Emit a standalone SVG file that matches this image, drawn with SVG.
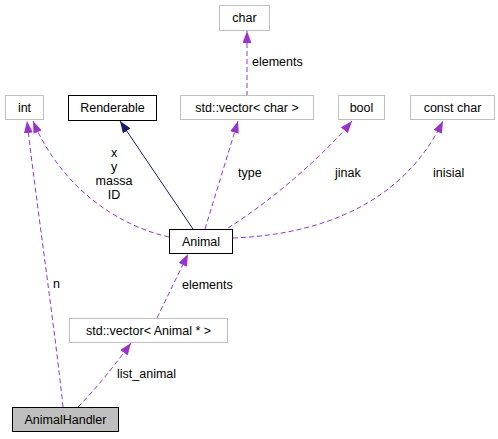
<svg xmlns="http://www.w3.org/2000/svg" width="498" height="439" viewBox="0 0 498 439">
<style>
text{font-family:"Liberation Sans",Arial,sans-serif;font-size:12.5px;fill:#000}
.n text{text-anchor:middle}
.gray{fill:#fff;stroke:#bfbfbf;stroke-width:1}
.blk{fill:#fff;stroke:#000;stroke-width:1}
.dep{fill:none;stroke:#9a32cd;stroke-width:1;stroke-dasharray:5,3}
.inh{fill:none;stroke:#191970;stroke-width:1}
</style>
<defs>
<marker id="ap" markerUnits="userSpaceOnUse" viewBox="0 0 12 9" refX="12" refY="4.5" markerWidth="12" markerHeight="9" orient="auto">
<path d="M0,0 L12,4.5 L0,9 z" fill="#9a32cd"/>
</marker>
<marker id="an" markerUnits="userSpaceOnUse" viewBox="0 0 12 9" refX="12" refY="4.5" markerWidth="12" markerHeight="9" orient="auto">
<path d="M0,0 L12,4.5 L0,9 z" fill="#191970"/>
</marker>
</defs>
<g id="edges">
<path class="dep" d="M78,407 C95,390 115,365 131,343" marker-end="url(#ap)"/>
<path class="dep" d="M63,407 C55,330 36,200 27,121" marker-end="url(#ap)"/>
<path class="dep" d="M169,237 C115,225 60,185 33,121" marker-end="url(#ap)"/>
<path class="inh" d="M193,229 L120,121" marker-end="url(#an)"/>
<path class="dep" d="M205,229 L238,121" marker-end="url(#ap)"/>
<path class="dep" d="M228,228 C265,205 320,160 352,121" marker-end="url(#ap)"/>
<path class="dep" d="M233,238 C310,235 400,210 443,121" marker-end="url(#ap)"/>
<path class="dep" d="M247,96 L247,31" marker-end="url(#ap)"/>
<path class="dep" d="M157,318 L188,254" marker-end="url(#ap)"/>
<text x="252" y="66">elements</text>
<text x="114" y="157" text-anchor="middle">x</text>
<text x="114" y="171" text-anchor="middle">y</text>
<text x="114" y="185" text-anchor="middle">massa</text>
<text x="114" y="199" text-anchor="middle">ID</text>
<text x="238" y="177">type</text>
<text x="335" y="177">jinak</text>
<text x="433" y="177">inisial</text>
<text x="53" y="288">n</text>
<text x="182" y="289">elements</text>
<text x="117" y="378">list_animal</text>
</g>
<g id="char" class="n"><rect class="gray" x="219.5" y="5.5" width="50" height="25"/><text x="244.5" y="22">char</text></g>
<g id="vector_char" class="n"><rect class="gray" x="180.5" y="95.5" width="133" height="24"/><text x="247" y="112">std::vector&lt; char &gt;</text></g>
<g id="int" class="n"><rect class="gray" x="5.5" y="95.5" width="38" height="24"/><text x="24.5" y="112">int</text></g>
<g id="Renderable" class="n"><rect class="blk" x="68.5" y="95.5" width="88" height="25"/><text x="112.5" y="112">Renderable</text></g>
<g id="bool" class="n"><rect class="gray" x="338.5" y="95.5" width="46" height="24"/><text x="361.5" y="112">bool</text></g>
<g id="const_char" class="n"><rect class="gray" x="410.5" y="95.5" width="84" height="24"/><text x="452.5" y="112">const char</text></g>
<g id="Animal" class="n"><rect class="blk" x="169.5" y="229.5" width="63" height="24"/><text x="201" y="246">Animal</text></g>
<g id="vector_Animal" class="n"><rect class="gray" x="69.5" y="318.5" width="158" height="24"/><text x="148.5" y="335">std::vector&lt; Animal * &gt;</text></g>
<g id="AnimalHandler" class="n"><rect x="12.5" y="407.5" width="106" height="24" fill="#bfbfbf" stroke="#000"/><text x="65.5" y="424">AnimalHandler</text></g>
</svg>
